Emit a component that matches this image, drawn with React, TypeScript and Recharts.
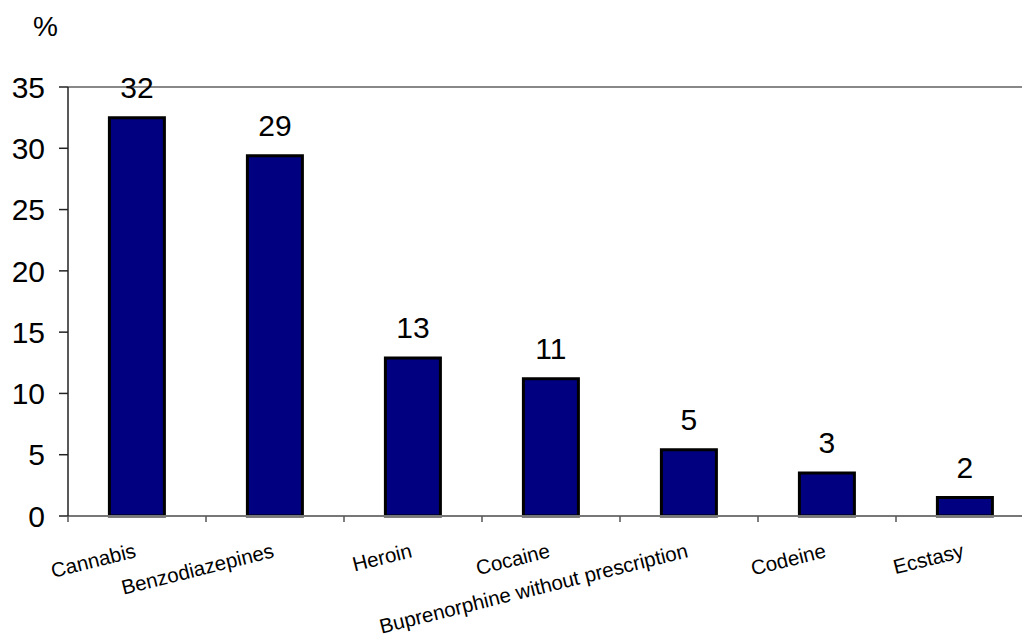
import React from 'react';
import { BarChart, Bar, XAxis, YAxis, ReferenceLine, LabelList } from 'recharts';

const DRUGS = ['Cannabis', 'Benzodiazepines', 'Heroin', 'Cocaine', 'Buprenorphine without prescription', 'Codeine', 'Ecstasy'];
const SHARE = [32.5, 29.4, 12.9, 11.2, 5.4, 3.5, 1.5];
const SHARE_LABELS = ['32', '29', '13', '11', '5', '3', '2'];
const Y_TICKS = [0, 5, 10, 15, 20, 25, 30, 35];

const data = DRUGS.map((name, i) => ({ name, share: SHARE[i], label: SHARE_LABELS[i] }));

const FONT = '"Liberation Sans", Arial, sans-serif';
const W = 1040;
const H = 641;
const M = { top: 87, right: 6, left: 0, bottom: 0 };
const Y_AXIS_W = 68;
const BAND = (W - M.left - M.right - Y_AXIS_W) / DRUGS.length;

// x labels: slanted, right end sitting under the category centre; tick marks at band edges
function DrugTick(props: any) {
  const { x, y, payload, index } = props;
  const i = payload?.index ?? index ?? 0;
  const tx = x;
  const ty = y + 41;
  return (
    <g>
      <line x1={x - BAND / 2} y1={y} x2={x - BAND / 2} y2={y + 6} stroke="#555" strokeWidth={1.5} />
      {i === DRUGS.length - 1 && (
        <line x1={x + BAND / 2} y1={y} x2={x + BAND / 2} y2={y + 6} stroke="#555" strokeWidth={1.5} />
      )}
      <text x={tx} y={ty} textAnchor="end" fontSize={20.5} fontFamily={FONT} fill="#000"
        transform={`rotate(-14, ${tx}, ${ty})`}>
        {payload.value}
      </text>
    </g>
  );
}

export default function App() {
  return (
    <div style={{ position: 'fixed', left: 0, top: 0, width: 1022, height: 641, overflow: 'hidden', background: '#fff' }}>
      <div style={{ position: 'absolute', left: 33, top: 12, fontSize: 28, fontFamily: FONT, lineHeight: '30px' }}>%</div>
      <BarChart width={W} height={H} data={data} margin={M} barCategoryGap="30%">
        <ReferenceLine y={35} stroke="#888" strokeWidth={2} />
        <XAxis dataKey="name" interval={0} height={125} tickSize={0} tickMargin={0}
          axisLine={{ stroke: '#777', strokeWidth: 2 }} tickLine={false} tick={<DrugTick />} />
        <YAxis width={Y_AXIS_W} domain={[0, 35]} ticks={Y_TICKS} interval={0} tickSize={9} tickMargin={14}
          axisLine={{ stroke: '#222', strokeWidth: 1.5 }} tickLine={{ stroke: '#222', strokeWidth: 1.5 }}
          tick={{ fontSize: 30, fill: '#000', fontFamily: FONT }} />
        <Bar dataKey="share" fill="#000080" stroke="#000" strokeWidth={3} isAnimationActive={false}>
          <LabelList dataKey="label" position="top" offset={20} fontSize={30} fill="#000" fontFamily={FONT} />
        </Bar>
      </BarChart>
    </div>
  );
}
